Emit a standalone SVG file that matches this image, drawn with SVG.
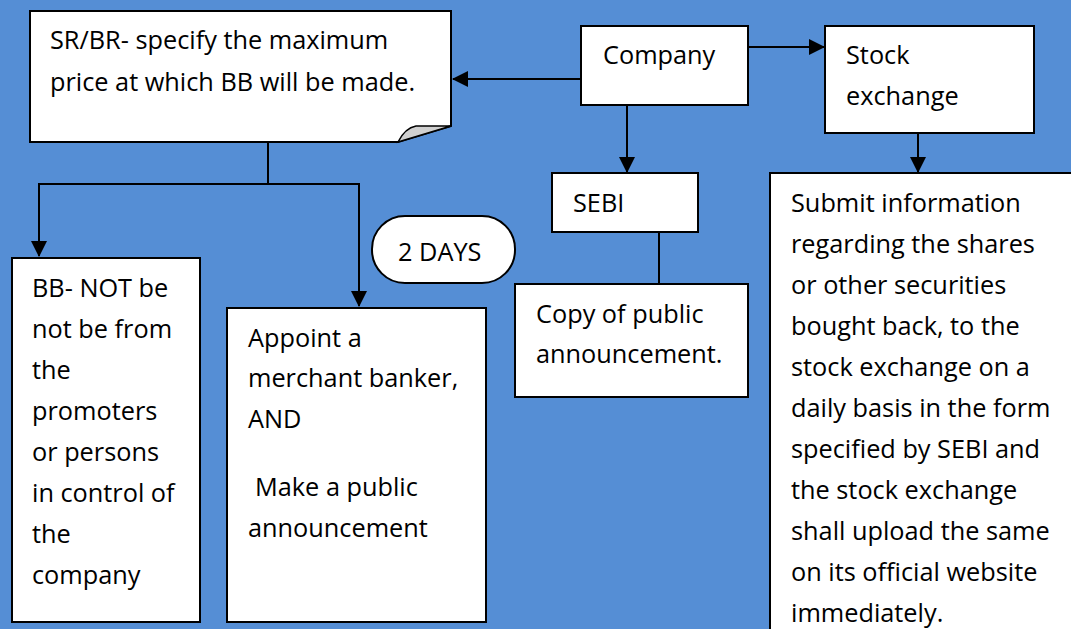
<svg xmlns="http://www.w3.org/2000/svg" width="1071" height="629" viewBox="0 0 1071 629">
<defs>
<style>
.box{fill:#fff;stroke:#000;stroke-width:2}
.t{font-family:"Open Sans","Liberation Sans",sans-serif;font-size:25.3px;fill:#000}
.c{fill:none;stroke:#000;stroke-width:2}
</style>
<marker id="ah" markerWidth="16" markerHeight="16" viewBox="0 0 16 16" refX="15" refY="8" orient="auto" markerUnits="userSpaceOnUse">
<path d="M0,0 L16,8 L0,16 Z" fill="#000"/>
</marker>
</defs>
<rect width="1071" height="629" fill="#558ed5"/>
<g id="connectors">
<path class="c" d="M581,79 H453" marker-end="url(#ah)"/>
<path class="c" d="M748,47 H824" marker-end="url(#ah)"/>
<path class="c" d="M627,105 V172" marker-end="url(#ah)"/>
<path class="c" d="M918,133 V172" marker-end="url(#ah)"/>
<path class="c" d="M659,232 V284"/>
<path class="c" d="M268,142 V184"/>
<path class="c" d="M39,184 H359"/>
<path class="c" d="M39,183 V256" marker-end="url(#ah)"/>
<path class="c" d="M359,183 V306" marker-end="url(#ah)"/>
</g>
<g id="srbr">
<path class="box" d="M30,11 H451 V126 L398,142 H30 Z"/>
<path d="M398,142 Q405,128 416,126 L451,126 Z" fill="#d0d0d0" stroke="#000" stroke-width="1.5"/>
<text class="t" x="50" y="49">SR/BR- specify the maximum</text>
<text class="t" x="50" y="91">price at which BB will be made.</text>
</g>
<g id="company">
<rect class="box" x="581" y="26" width="167" height="79"/>
<text class="t" x="603" y="64">Company</text>
</g>
<g id="stock">
<rect class="box" x="825" y="26" width="209" height="107"/>
<text class="t" x="846" y="64">Stock</text>
<text class="t" x="846" y="105">exchange</text>
</g>
<g id="sebi">
<rect class="box" x="552" y="173" width="146" height="59"/>
<text class="t" x="573" y="212">SEBI</text>
</g>
<g id="copy">
<rect class="box" x="515" y="284" width="233" height="113"/>
<text class="t" x="536" y="323">Copy of public</text>
<text class="t" x="536" y="363">announcement.</text>
</g>
<g id="submit">
<rect class="box" x="770" y="173" width="310" height="470"/>
<text class="t" x="791" y="212">Submit information</text>
<text class="t" x="791" y="253">regarding the shares</text>
<text class="t" x="791" y="294">or other securities</text>
<text class="t" x="791" y="335">bought back, to the</text>
<text class="t" x="791" y="376">stock exchange on a</text>
<text class="t" x="791" y="417">daily basis in the form</text>
<text class="t" x="791" y="458">specified by SEBI and</text>
<text class="t" x="791" y="499">the stock exchange</text>
<text class="t" x="791" y="540">shall upload the same</text>
<text class="t" x="791" y="581">on its official website</text>
<text class="t" x="791" y="622">immediately.</text>
</g>
<g id="days">
<rect class="box" x="372" y="216" width="143" height="67" rx="33" ry="33"/>
<text class="t" x="398" y="261">2 DAYS</text>
</g>
<g id="bb">
<rect class="box" x="12" y="258" width="188" height="364"/>
<text class="t" x="32" y="297">BB- NOT be</text>
<text class="t" x="32" y="338">not be from</text>
<text class="t" x="32" y="379">the</text>
<text class="t" x="32" y="420">promoters</text>
<text class="t" x="32" y="461">or persons</text>
<text class="t" x="32" y="502">in control of</text>
<text class="t" x="32" y="543">the</text>
<text class="t" x="32" y="584">company</text>
</g>
<g id="appoint">
<rect class="box" x="227" y="308" width="259" height="314"/>
<text class="t" x="248" y="347">Appoint a</text>
<text class="t" x="248" y="387">merchant banker,</text>
<text class="t" x="248" y="428">AND</text>
<text class="t" x="255" y="496">Make a public</text>
<text class="t" x="248" y="537">announcement</text>
</g>
</svg>
